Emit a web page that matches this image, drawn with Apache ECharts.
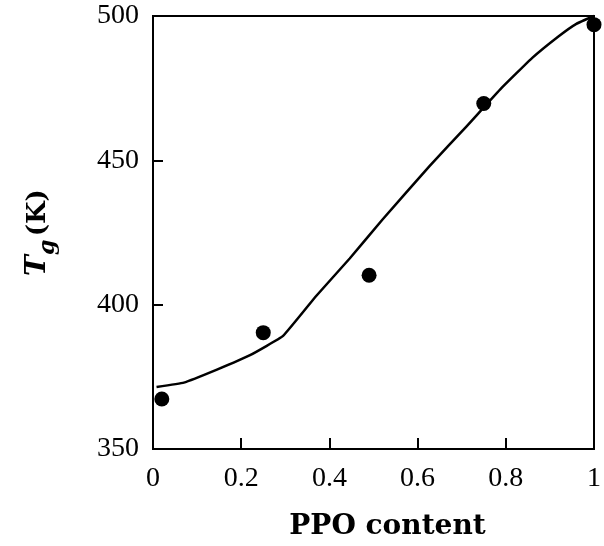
<!DOCTYPE html>
<html>
<head>
<meta charset="utf-8">
<script src="https://cdn.jsdelivr.net/npm/echarts@6/dist/echarts.min.js"></script>
<style>
  html, body { margin: 0; padding: 0; background: #fff; }
  #chart { width: 604px; height: 546px; }
</style>
</head>
<body>
<div id="chart"></div>
<script>
// measured Tg values (K) vs PPO content
var ppoContent = [0.02, 0.25, 0.49, 0.75, 1.0];
var tgMeasured = [367.3, 390.3, 410.2, 469.7, 497];

// model curve
var curveX = [0.008, 0.07, 0.145, 0.22, 0.295, 0.37, 0.446, 0.52, 0.627, 0.71, 0.79, 0.86, 0.92, 0.96, 1.0];
var curveY = [371.5, 373, 377.5, 382.5, 389.2, 403, 416, 429.4, 448, 461.6, 475, 485.5, 493, 497.3, 500];

var xTicks = { min: 0, max: 1, step: 0.2 };
var yTicks = { min: 350, max: 500, step: 50 };

function pairs(xs, ys) {
    var out = [];
    for (var i = 0; i < xs.length; i++) out.push([xs[i], ys[i]]);
    return out;
}

var myChart = echarts.init(document.getElementById('chart'));

var serif = 'DejaVu Serif';
var tickFont = 'Liberation Serif';

option = {
    animation: false,
    grid: {
        left: 153,
        right: 9,
        top: 16,
        bottom: 96,
        show: true,
        borderColor: '#000',
        borderWidth: 2
    },
    xAxis: {
        type: 'value',
        min: xTicks.min,
        max: xTicks.max,
        interval: xTicks.step,
        name: 'PPO content',
        nameLocation: 'middle',
        nameGap: 64,
        nameTextStyle: {
            fontFamily: serif,
            fontWeight: 'bold',
            fontSize: 28,
            color: '#000',
            padding: [0, 0, 0, 28]
        },
        axisLine: { show: true, lineStyle: { color: '#000', width: 2 } },
        axisTick: { show: true, inside: true, length: 11, lineStyle: { color: '#000', width: 2 } },
        axisLabel: { fontFamily: tickFont, fontSize: 28, color: '#000', margin: 16 },
        splitLine: { show: false }
    },
    yAxis: {
        type: 'value',
        min: yTicks.min,
        max: yTicks.max,
        interval: yTicks.step,
        name: '{t|T}{g|g} {k|(K)}',
        nameLocation: 'middle',
        nameRotate: 90,
        nameGap: 94,
        nameTextStyle: {
            color: '#000',
            rich: {
                t: { fontFamily: serif, fontStyle: 'italic', fontWeight: 'bold', fontSize: 28, color: '#000' },
                g: { fontFamily: serif, fontStyle: 'italic', fontWeight: 'bold', fontSize: 22, color: '#000', padding: [20, 0, 0, 0] },
                k: { fontFamily: serif, fontWeight: 'bold', fontSize: 26, color: '#000' }
            }
        },
        axisLine: { show: true, lineStyle: { color: '#000', width: 2 } },
        axisTick: { show: true, inside: true, length: 10, lineStyle: { color: '#000', width: 2 } },
        axisLabel: { fontFamily: tickFont, fontSize: 28, color: '#000', margin: 14 },
        splitLine: { show: false }
    },
    series: [
        {
            type: 'line',
            data: pairs(curveX, curveY),
            showSymbol: false,
            smooth: 0.1,
            lineStyle: { color: '#000', width: 2.5, join: 'round' },
            clip: false
        },
        {
            type: 'scatter',
            data: pairs(ppoContent, tgMeasured),
            symbol: 'circle',
            symbolSize: 15,
            itemStyle: { color: '#000', opacity: 1 },
            clip: false
        }
    ]
};

myChart.setOption(option);
</script>
</body>
</html>
